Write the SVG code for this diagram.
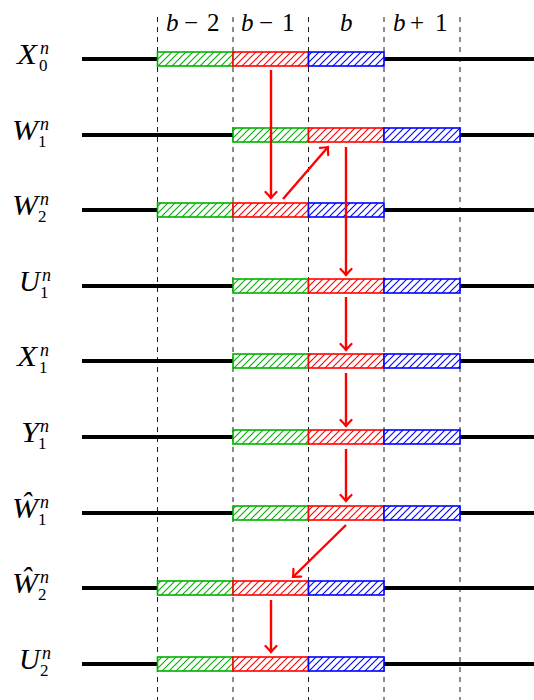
<svg xmlns="http://www.w3.org/2000/svg" width="534" height="700" viewBox="0 0 534 700">
<defs>
<pattern id="hg" patternUnits="userSpaceOnUse" width="7" height="7"><rect width="7" height="7" fill="#fff"/><path d="M-1,8 L8,-1 M-1,1 L1,-1 M6,8 L8,6" fill="none" stroke="#00b000" stroke-width="1.1"/></pattern>
<pattern id="hr" patternUnits="userSpaceOnUse" width="7" height="7"><rect width="7" height="7" fill="#fff"/><path d="M-1,8 L8,-1 M-1,1 L1,-1 M6,8 L8,6" fill="none" stroke="#ff0000" stroke-width="1.1"/></pattern>
<pattern id="hb" patternUnits="userSpaceOnUse" width="7" height="7"><rect width="7" height="7" fill="#fff"/><path d="M-1,8 L8,-1 M-1,1 L1,-1 M6,8 L8,6" fill="none" stroke="#0000ff" stroke-width="1.1"/></pattern>
<marker id="ah" markerUnits="userSpaceOnUse" viewBox="-8 -7 10 14" refX="0" refY="0" markerWidth="10" markerHeight="14" orient="auto">
<path d="M-6,-5.5 Q-2,-1.5 0,0 Q-2,1.5 -6,5.5" fill="none" stroke="#ff0000" stroke-width="2.2" stroke-linecap="round"/>
</marker>
</defs>
<style>
.ax{stroke:#000;stroke-width:4.2}
.dash{stroke:#000;stroke-width:0.9;stroke-dasharray:5,5}
.g{fill:url(#hg);stroke:#00b000;stroke-width:1.6}
.r{fill:url(#hr);stroke:#ff0000;stroke-width:1.6}
.b{fill:url(#hb);stroke:#0000ff;stroke-width:1.6}
text{font-family:"Liberation Serif","Times New Roman",serif;fill:#000}
.lbl{font-style:italic;font-size:29px}
.sub{font-style:normal;font-size:17px}
.supi{font-style:italic;font-size:18px}
.top{font-size:25px}
.arr{stroke:#ff0000;stroke-width:2.4;fill:none;marker-end:url(#ah)}
</style>
<g id="grid">
<line class="dash" x1="157.5" y1="17" x2="157.5" y2="700"/>
<line class="dash" x1="233" y1="17" x2="233" y2="700"/>
<line class="dash" x1="308.5" y1="17" x2="308.5" y2="700"/>
<line class="dash" x1="384" y1="17" x2="384" y2="700"/>
<line class="dash" x1="460" y1="17" x2="460" y2="700"/>
</g>
<g id="col-labels">
<text class="top" y="31"><tspan x="166" font-style="italic">b</tspan><tspan x="184">−</tspan><tspan x="207">2</tspan></text>
<text class="top" y="31"><tspan x="241" font-style="italic">b</tspan><tspan x="259">−</tspan><tspan x="282">1</tspan></text>
<text class="top" y="31" x="340" font-style="italic">b</text>
<text class="top" y="31"><tspan x="393" font-style="italic">b</tspan><tspan x="410">+</tspan><tspan x="435">1</tspan></text>
</g>
<g id="row-X0n">
<line class="ax" x1="82" y1="59" x2="534" y2="59"/>
<rect class="g" x="157.5" y="52" width="75.5" height="14"/><rect class="r" x="233" y="52" width="75.5" height="14"/><rect class="b" x="308.5" y="52" width="75.5" height="14"/>
<text class="lbl" x="17" y="64" textLength="20" lengthAdjust="spacingAndGlyphs">X</text><text class="supi" x="40" y="54">n</text><text class="sub" x="39" y="71">0</text>
</g>
<g id="row-W1n">
<line class="ax" x1="82" y1="135" x2="534" y2="135"/>
<rect class="g" x="233" y="128" width="75.5" height="14"/><rect class="r" x="308.5" y="128" width="75.5" height="14"/><rect class="b" x="384" y="128" width="76" height="14"/>
<text class="lbl" x="12" y="140" textLength="26" lengthAdjust="spacingAndGlyphs">W</text><text class="supi" x="40" y="130">n</text><text class="sub" x="38" y="147">1</text>
</g>
<g id="row-W2n">
<line class="ax" x1="82" y1="210" x2="534" y2="210"/>
<rect class="g" x="157.5" y="203" width="75.5" height="14"/><rect class="r" x="233" y="203" width="75.5" height="14"/><rect class="b" x="308.5" y="203" width="75.5" height="14"/>
<text class="lbl" x="12" y="215" textLength="26" lengthAdjust="spacingAndGlyphs">W</text><text class="supi" x="40" y="205">n</text><text class="sub" x="38" y="222">2</text>
</g>
<g id="row-U1n">
<line class="ax" x1="82" y1="286" x2="534" y2="286"/>
<rect class="g" x="233" y="279" width="75.5" height="14"/><rect class="r" x="308.5" y="279" width="75.5" height="14"/><rect class="b" x="384" y="279" width="76" height="14"/>
<text class="lbl" x="19" y="291">U</text><text class="supi" x="42" y="281">n</text><text class="sub" x="40" y="298">1</text>
</g>
<g id="row-X1n">
<line class="ax" x1="82" y1="361" x2="534" y2="361"/>
<rect class="g" x="233" y="354" width="75.5" height="14"/><rect class="r" x="308.5" y="354" width="75.5" height="14"/><rect class="b" x="384" y="354" width="76" height="14"/>
<text class="lbl" x="17" y="366" textLength="20" lengthAdjust="spacingAndGlyphs">X</text><text class="supi" x="40" y="356">n</text><text class="sub" x="39" y="373">1</text>
</g>
<g id="row-Y1n">
<line class="ax" x1="82" y1="437" x2="534" y2="437"/>
<rect class="g" x="233" y="430" width="75.5" height="14"/><rect class="r" x="308.5" y="430" width="75.5" height="14"/><rect class="b" x="384" y="430" width="76" height="14"/>
<text class="lbl" x="21" y="442" textLength="18" lengthAdjust="spacingAndGlyphs">Y</text><text class="supi" x="40" y="432">n</text><text class="sub" x="38" y="449">1</text>
</g>
<g id="row-Wh1n">
<line class="ax" x1="82" y1="513" x2="534" y2="513"/>
<rect class="g" x="233" y="506" width="75.5" height="14"/><rect class="r" x="308.5" y="506" width="75.5" height="14"/><rect class="b" x="384" y="506" width="76" height="14"/>
<text class="lbl" x="12" y="518" textLength="26" lengthAdjust="spacingAndGlyphs">Ŵ</text><text class="supi" x="40" y="508">n</text><text class="sub" x="38" y="525">1</text>
</g>
<g id="row-Wh2n">
<line class="ax" x1="82" y1="588" x2="534" y2="588"/>
<rect class="g" x="157.5" y="581" width="75.5" height="14"/><rect class="r" x="233" y="581" width="75.5" height="14"/><rect class="b" x="308.5" y="581" width="75.5" height="14"/>
<text class="lbl" x="12" y="593" textLength="26" lengthAdjust="spacingAndGlyphs">Ŵ</text><text class="supi" x="40" y="583">n</text><text class="sub" x="38" y="600">2</text>
</g>
<g id="row-U2n">
<line class="ax" x1="82" y1="664" x2="534" y2="664"/>
<rect class="g" x="157.5" y="657" width="75.5" height="14"/><rect class="r" x="233" y="657" width="75.5" height="14"/><rect class="b" x="308.5" y="657" width="75.5" height="14"/>
<text class="lbl" x="19" y="669">U</text><text class="supi" x="42" y="659">n</text><text class="sub" x="40" y="676">2</text>
</g>
<g id="connectors">
<line class="arr" x1="271" y1="70" x2="271" y2="198"/>
<line class="arr" x1="283" y1="199" x2="328" y2="147"/>
<line class="arr" x1="346" y1="147" x2="346" y2="275"/>
<line class="arr" x1="346" y1="297" x2="346" y2="350"/>
<line class="arr" x1="346" y1="373" x2="346" y2="426"/>
<line class="arr" x1="346" y1="449" x2="346" y2="501"/>
<line class="arr" x1="346" y1="525" x2="293" y2="577"/>
<line class="arr" x1="271" y1="600" x2="271" y2="652"/>
</g>
</svg>
